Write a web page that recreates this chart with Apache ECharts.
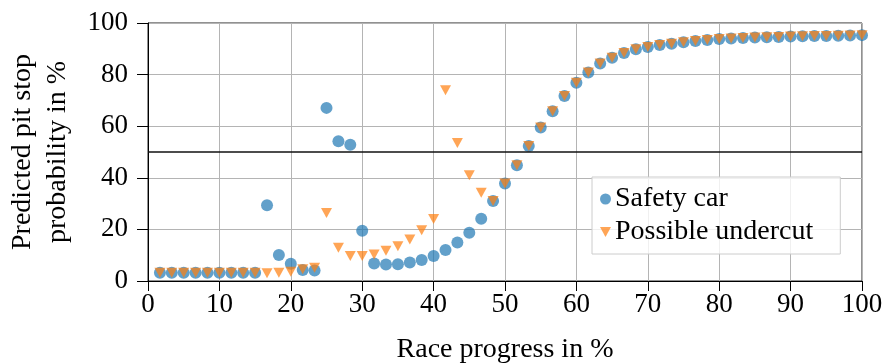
<!DOCTYPE html>
<html>
<head>
<meta charset="utf-8">
<script src="https://cdn.jsdelivr.net/npm/echarts@6/dist/echarts.min.js"></script>
<style>
  html, body { margin: 0; padding: 0; background: #fff; }
  #chart { width: 882px; height: 363px; }
</style>
</head>
<body>
<div id="chart"></div>
<script>
// Race progress (%) at which each prediction is made
const raceProgress = [
  1.67, 3.33, 5, 6.67, 8.33, 10, 11.67, 13.33, 15, 16.67,
  18.33, 20, 21.67, 23.33, 25, 26.67, 28.33, 30, 31.67, 33.33,
  35, 36.67, 38.33, 40, 41.67, 43.33, 45, 46.67, 48.33, 50,
  51.67, 53.33, 55, 56.67, 58.33, 60, 61.67, 63.33, 65, 66.67,
  68.33, 70, 71.67, 73.33, 75, 76.67, 78.33, 80, 81.67, 83.33,
  85, 86.67, 88.33, 90, 91.67, 93.33, 95, 96.67, 98.33, 100
];

// Predicted pit stop probability (%) — safety car scenario
const safetyCar = [
  3.2, 3.2, 3.2, 3.2, 3.2, 3.2, 3.2, 3.2, 3.2, 29.4,
  10.1, 6.7, 4.3, 4.1, 67.1, 54.2, 52.8, 19.5, 6.8, 6.4,
  6.5, 7.2, 8.1, 9.7, 12.0, 14.9, 18.7, 24.1, 31.0, 37.8,
  44.9, 52.3, 59.5, 65.8, 71.7, 76.8, 80.8, 84.3, 86.5, 88.4,
  89.8, 90.7, 91.5, 92.0, 92.5, 93.0, 93.4, 93.8, 94.0, 94.2,
  94.4, 94.5, 94.6, 94.8, 94.9, 95.0, 95.0, 95.1, 95.2, 95.3
];

// Predicted pit stop probability (%) — possible undercut scenario
const possibleUndercut = [
  3.2, 3.2, 3.2, 3.2, 3.2, 3.2, 3.2, 3.2, 3.2, 3.0,
  3.2, 3.6, 4.6, 5.1, 26.4, 12.9, 9.7, 9.7, 10.3, 11.7,
  13.5, 16.1, 19.7, 24.0, 73.9, 53.5, 41.0, 34.2, 31.0, 37.8,
  44.9, 52.3, 59.5, 65.8, 71.7, 76.8, 80.8, 84.3, 86.5, 88.4,
  89.8, 90.7, 91.5, 92.0, 92.5, 93.0, 93.4, 93.8, 94.0, 94.2,
  94.4, 94.5, 94.6, 94.8, 94.9, 95.0, 95.0, 95.1, 95.2, 95.3
];

const decisionThreshold = 50;

const seriesNames = ['Safety car', 'Possible undercut'];
const xAxisTitle = 'Race progress in %';
const yAxisTitle = 'Predicted pit stop\nprobability in %';

const FONT = '"Liberation Serif", "DejaVu Serif", serif';
const pairs = (ys) => raceProgress.map((x, i) => [x, ys[i]]);

const chart = echarts.init(document.getElementById('chart'), null, { renderer: 'canvas' });

chart.setOption({
  animation: false,
  backgroundColor: '#fff',
  textStyle: { fontFamily: FONT, color: '#000' },
  grid: {
    left: 148, right: 20, top: 23, bottom: 82,
    containLabel: false, outerBoundsMode: 'none',
    show: true, borderColor: '#222', borderWidth: 1, backgroundColor: 'transparent'
  },
  legend: {
    orient: 'vertical',
    left: 592, top: 177,
    padding: [8, 27, 8, 8],
    itemGap: 5,
    itemWidth: 11, itemHeight: 11,
    backgroundColor: 'rgba(255,255,255,0.8)',
    borderColor: '#cccccc', borderWidth: 1, borderRadius: 0,
    textStyle: { fontFamily: FONT, fontSize: 28, color: '#000', padding: [0, 0, 0, -1] },
    data: [
      { name: seriesNames[0], icon: 'circle' },
      { name: seriesNames[1], icon: 'path://M0,0 L10,0 L5,9 Z' }
    ]
  },
  xAxis: {
    type: 'value', min: 0, max: 100, interval: 10,
    name: xAxisTitle, nameLocation: 'middle', nameGap: 55,
    nameTextStyle: { fontFamily: FONT, fontSize: 28, color: '#000' },
    axisLine: { show: true, onZero: false, lineStyle: { color: '#000', width: 1 } },
    axisTick: { show: true, inside: false, length: 10, lineStyle: { color: '#000', width: 1 } },
    axisLabel: { margin: 10, fontFamily: FONT, fontSize: 27, color: '#000' },
    splitLine: { show: true, lineStyle: { color: '#b4b4b4', width: 1 } }
  },
  yAxis: {
    type: 'value', min: 0, max: 100, interval: 20,
    name: yAxisTitle, nameLocation: 'middle', nameGap: 73, nameRotate: 90,
    nameTextStyle: { fontFamily: FONT, fontSize: 28, color: '#000', lineHeight: 35, align: 'center' },
    axisLine: { show: true, onZero: false, lineStyle: { color: '#000', width: 1 } },
    axisTick: { show: true, inside: false, length: 11, lineStyle: { color: '#000', width: 1 } },
    axisLabel: { margin: 20, fontFamily: FONT, fontSize: 27, color: '#000' },
    splitLine: { show: true, lineStyle: { color: '#b4b4b4', width: 1 } }
  },
  series: [
    {
      name: seriesNames[0],
      type: 'scatter',
      symbol: 'circle',
      symbolSize: 12,
      itemStyle: { color: '#1f77b4', opacity: 0.7 },
      data: pairs(safetyCar),
      z: 3,
      markLine: {
        silent: true,
        symbol: 'none',
        label: { show: false },
        lineStyle: { color: '#111', width: 1.5, type: 'solid' },
        data: [{ yAxis: decisionThreshold }]
      }
    },
    {
      name: seriesNames[1],
      type: 'scatter',
      symbol: 'triangle',
      symbolRotate: 180,
      symbolSize: [11, 10],
      itemStyle: { color: '#ff7f0e', opacity: 0.7 },
      data: pairs(possibleUndercut),
      z: 4
    }
  ]
});
</script>
</body>
</html>
